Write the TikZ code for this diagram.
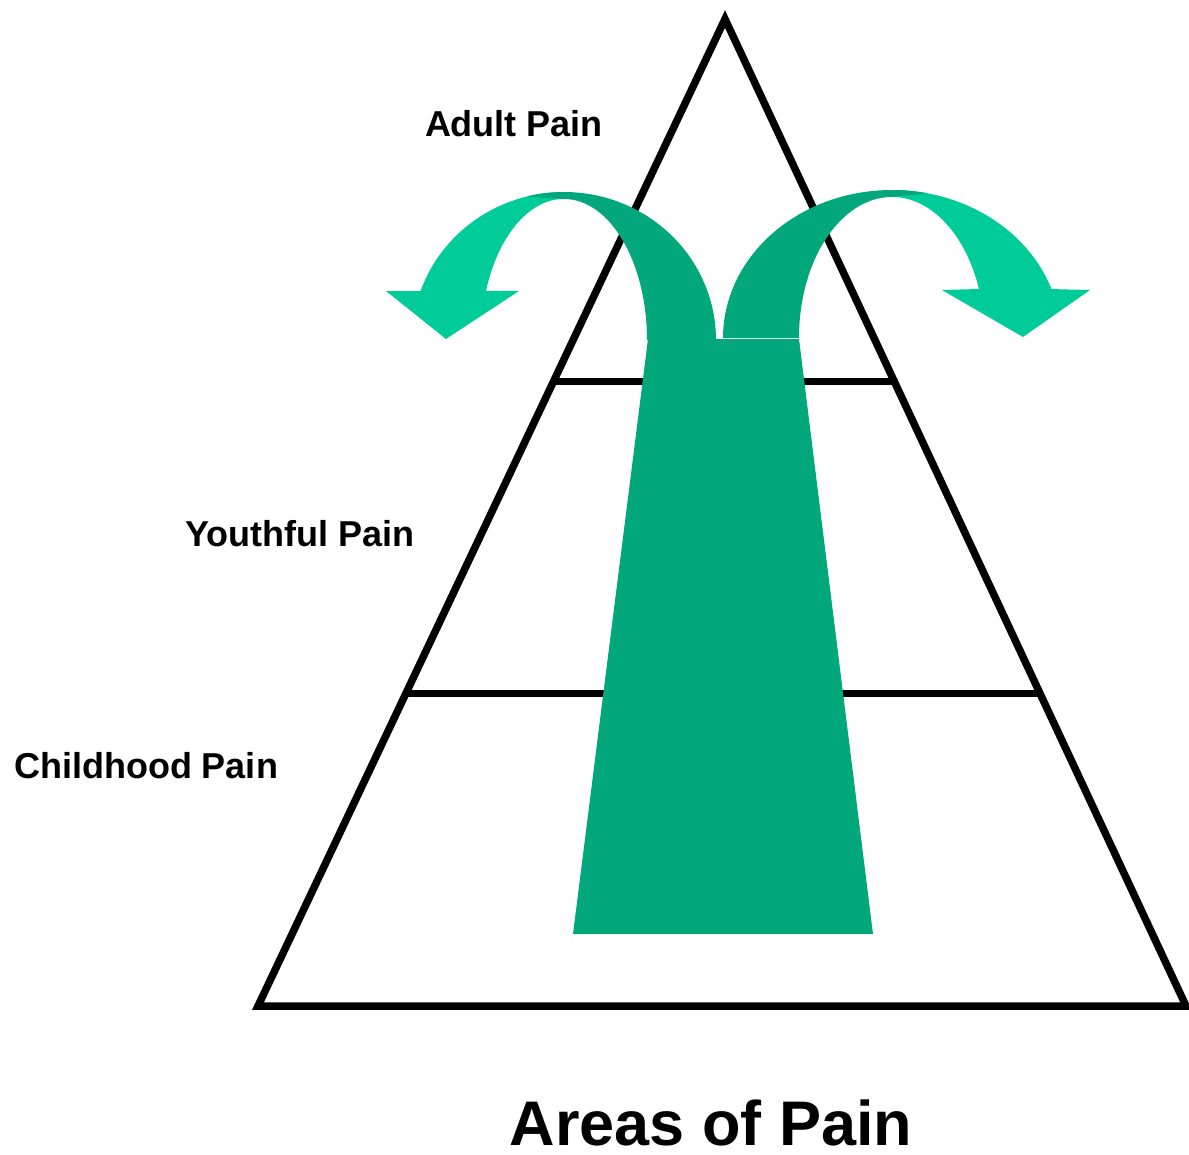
\documentclass[tikz,border=0pt]{standalone}
\usepackage{fontspec}
\setmainfont{Liberation Sans}
\usetikzlibrary{calc}
\definecolor{rTrunk}{RGB}{2,168,124}
\definecolor{rLeaf}{RGB}{0,204,153}
\colorlet{cDark}{rTrunk}
\colorlet{cLight}{rLeaf}

\begin{document}
\begin{tikzpicture}[x=1pt,y=1pt,yscale=-1,
			edge/.style={
				line width=7.5pt,
				black,
				line join=miter
			},
			lbl/.style={
				anchor=base,
				inner sep=0pt,
				font=\fontsize{36}{40}\selectfont\bfseries
			},
			ttl/.style={
				anchor=base,
				inner sep=0pt,
				text depth=0pt,
				font=\fontsize{63}{70}\selectfont\bfseries
			}
			]
			\useasboundingbox (0,0) rectangle (1189,1155);
			\coordinate (apex) at (725,19);
			\coordinate (bl) at (258,1006);
			\coordinate (br) at (1186,1006);
			\coordinate (m1l) at ($(apex)!0.367!(bl)$);
			\coordinate (m1r) at ($(apex)!0.367!(br)$);
			\coordinate (m2l) at ($(apex)!0.6836!(bl)$);
			\coordinate (m2r) at ($(apex)!0.6836!(br)$);
			\draw[edge] (apex) -- (bl) -- (br) -- cycle;
			\draw[edge,line width=7pt] (m1l) -- (m1r);
			\draw[edge,line width=7pt] (m2l) -- (m2r);
			\fill[cDark] (648,339) -- (799,339) -- (873,934) -- (573,934) -- cycle;
			\fill[cLight] (564,192) arc[start angle=-90,end angle=-160.7,x radius=152,y radius=148]
				-- (386,291) -- (446,339) -- (519,291) -- (486,291)
				arc[start angle=-159.7,end angle=-90,x radius=83,y radius=141] -- cycle;
			\fill[cDark] (716,340) arc[start angle=0,end angle=-104,x radius=152,y radius=148]
				-- (564,199) arc[start angle=-90,end angle=0,x radius=83,y radius=141] -- cycle;
			\fill[cLight] (892,190) arc[start angle=-90,end angle=-19.3,x radius=169,y radius=148]
				-- (1090,290) -- (1023,337) -- (942,290) -- (979,289)
				arc[start angle=-20.3,end angle=-90,x radius=93,y radius=141] -- cycle;
			\fill[cDark] (723,338) arc[start angle=-180,end angle=-78,x radius=169,y radius=148]
				-- (892,197) arc[start angle=-90,end angle=-180,x radius=93,y radius=141] -- cycle;
			\node[lbl] (adult) at (514,137) {Adult Pain};
			\node[lbl] (youth) at (300,546) {Youthful Pain};
			\node[lbl] (child) at (146,778) {Childhood Pain};
			\node[ttl] (title) at (711,1145) {Areas of Pain};
		\end{tikzpicture}
\end{document}
